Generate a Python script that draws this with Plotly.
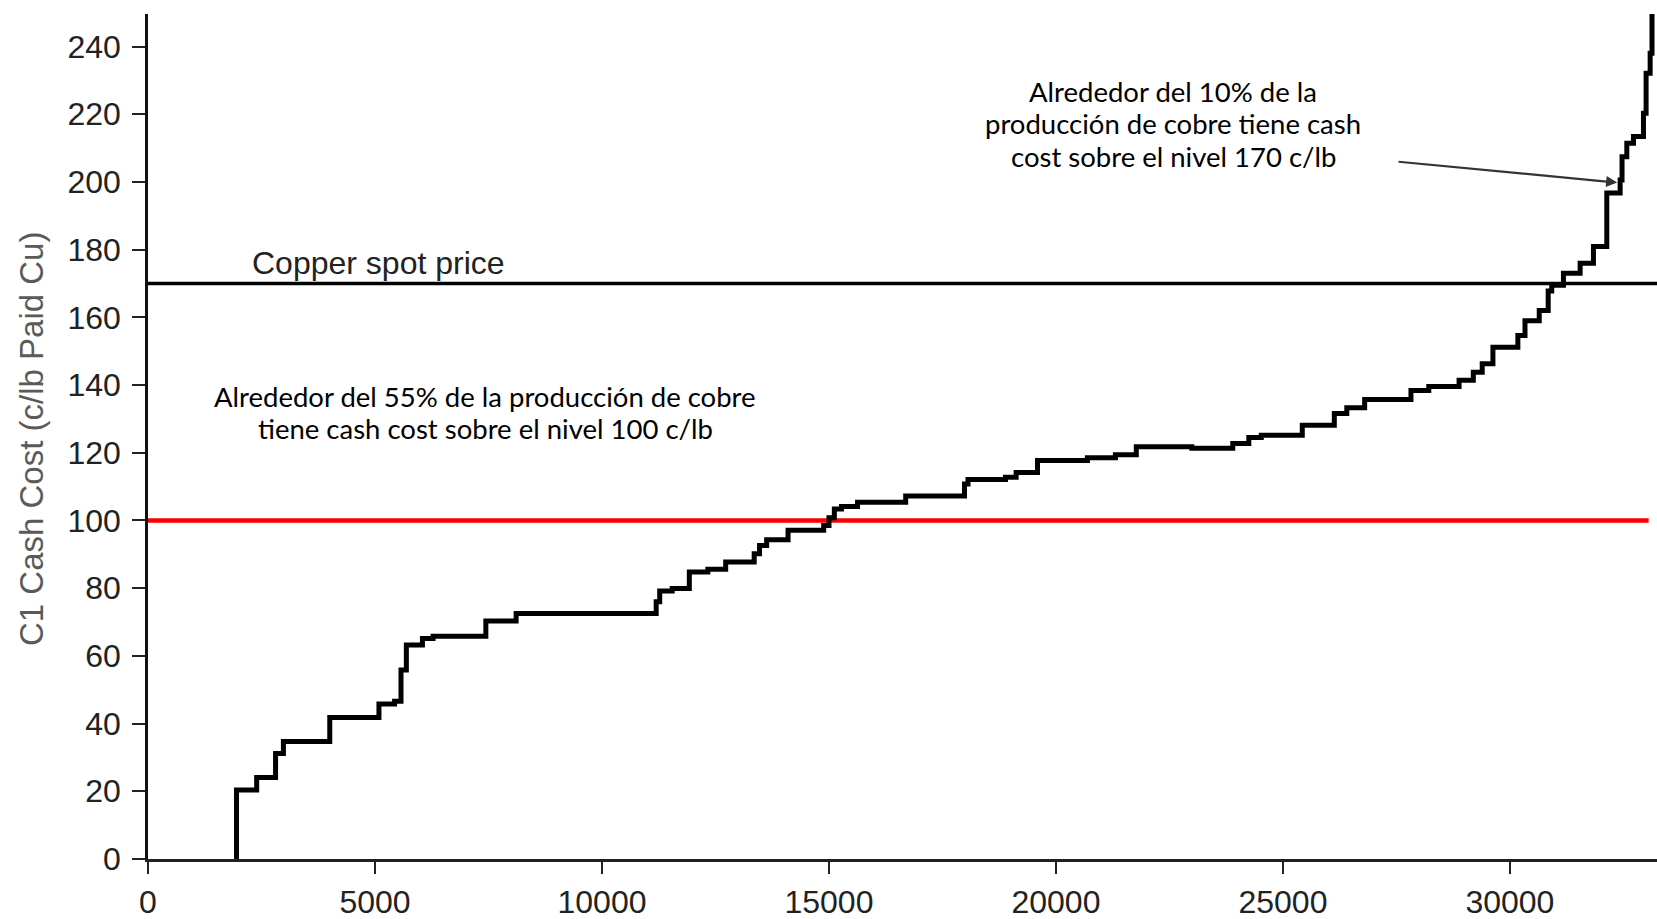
import plotly.graph_objects as go

# cumulative production (x, where each cost level starts) and C1 cash cost level
prod_start = [1950, 1950, 2394, 2810, 2983, 4004, 5087, 5432, 5573, 5691, 6045, 6280,
              7442, 8109, 11194, 11272, 11547, 11924, 12332, 12725, 13353, 13471,
              13628, 14099, 14884, 15001, 15119, 15276, 15630, 16690, 17985, 18063,
              18888, 19123, 19594, 20693, 21310, 21770, 22993, 23895, 24249, 24523,
              25426, 26132, 26407, 26800, 27820, 28213, 28880, 29194, 29390, 29626,
              30175, 30332, 30646, 30843, 30921, 31179, 31547, 31840, 32134, 32428,
              32470, 32575, 32722, 32942, 33000, 33089, 33130]
cash_cost = [0, 20.4, 24.1, 31.2, 34.7, 41.8, 45.8, 46.6, 55.8, 63.2, 65.1, 65.8,
             70.3, 72.5, 76.0, 79.2, 79.9, 84.8, 85.6, 87.7, 90.2, 92.6,
             94.3, 97.1, 98.5, 100.8, 103.4, 104.1, 105.4, 107.2, 110.8, 112.1,
             112.8, 114.2, 117.7, 118.5, 119.4, 121.8, 121.3, 122.7, 124.5, 125.2,
             128.1, 131.6, 133.3, 135.7, 138.4, 139.6, 141.4, 143.8, 146.3, 151.2,
             154.6, 159.0, 162.0, 167.8, 169.5, 173.0, 176.0, 180.9, 196.7, 200.6,
             207.4, 211.4, 213.4, 220.3, 232.1, 238.0, 252.0]

spot_price = 170
threshold = 100
threshold_end = 33056
x_max = 33240
y_max = 249.6

note_55 = ["Alrededor del 55% de la producción de cobre",
           "tiene cash cost sobre el nivel 100 c/lb"]
note_55_y = [136.7, 127.3]
note_10 = ["Alrededor del 10% de la",
           "producción de cobre tiene cash",
           "cost sobre el nivel 170 c/lb"]
note_10_y = [226.6, 217.3, 207.6]

fig = go.Figure()

fig.add_trace(go.Scatter(x=[0, x_max], y=[spot_price, spot_price], mode="lines",
                         line=dict(color="black", width=3.5), hoverinfo="skip"))
fig.add_trace(go.Scatter(x=[0, threshold_end], y=[threshold, threshold], mode="lines",
                         line=dict(color="#ff0000", width=4.5), hoverinfo="skip"))
fig.add_trace(go.Scatter(x=prod_start, y=cash_cost, mode="lines", line_shape="hv",
                         line=dict(color="black", width=5)))

fig.add_annotation(x=2250, y=176.1, xref="x", yref="y", text="Copper spot price",
                   showarrow=False, xanchor="left", yanchor="middle",
                   font=dict(family="Liberation Sans, Arial", size=32, color="#222"))

note_font = dict(family="Lato", size=27.5, color="black")
for txt, yy in zip(note_55, note_55_y):
    fig.add_annotation(x=7424, y=yy, xref="x", yref="y", text=txt, showarrow=False,
                       xanchor="center", yanchor="middle", font=note_font)
for txt, yy in zip(note_10, note_10_y):
    fig.add_annotation(x=22581, y=yy, xref="x", yref="y", text=txt, showarrow=False,
                       xanchor="center", yanchor="middle", font=note_font)

fig.add_annotation(x=32362, y=199.8, ax=27515, ay=206, xref="x", yref="y",
                   axref="x", ayref="y", text="", showarrow=True,
                   arrowhead=2, arrowsize=1, arrowwidth=2.2, arrowcolor="#333")

fig.add_annotation(x=0, y=0.497, xref="paper", yref="paper", xshift=-117,
                   xanchor="center", yanchor="middle",
                   text="C1 Cash Cost (c/lb Paid Cu)", textangle=-90, showarrow=False,
                   font=dict(family="Liberation Sans, Arial", size=33, color="#5a5a5a"))

fig.update_layout(
    width=1657, height=919,
    margin=dict(l=148, r=0, t=14, b=60, autoexpand=False),
    plot_bgcolor="white", paper_bgcolor="white",
    showlegend=False,
    font=dict(family="Liberation Sans, Arial", size=32, color="#222"),
)
fig.update_xaxes(range=[0, x_max], tickvals=[0, 5000, 10000, 15000, 20000, 25000, 30000],
                 tickformat="d", automargin=False,
                 showgrid=False, zeroline=False, showline=True, linecolor="#222", linewidth=2.5,
                 ticks="outside", ticklen=12, tickwidth=2, tickcolor="#222",
                 ticklabelstandoff=1)
fig.update_yaxes(range=[0, y_max], tickvals=list(range(0, 241, 20)), automargin=False,
                 showgrid=False, zeroline=False, showline=True, linecolor="#111", linewidth=2.5,
                 ticks="outside", ticklen=13, tickwidth=2, tickcolor="#222",
                 ticklabelstandoff=5)

fig.write_html("out.html", config={"displayModeBar": False},
               post_script="document.body.style.margin='0';")
